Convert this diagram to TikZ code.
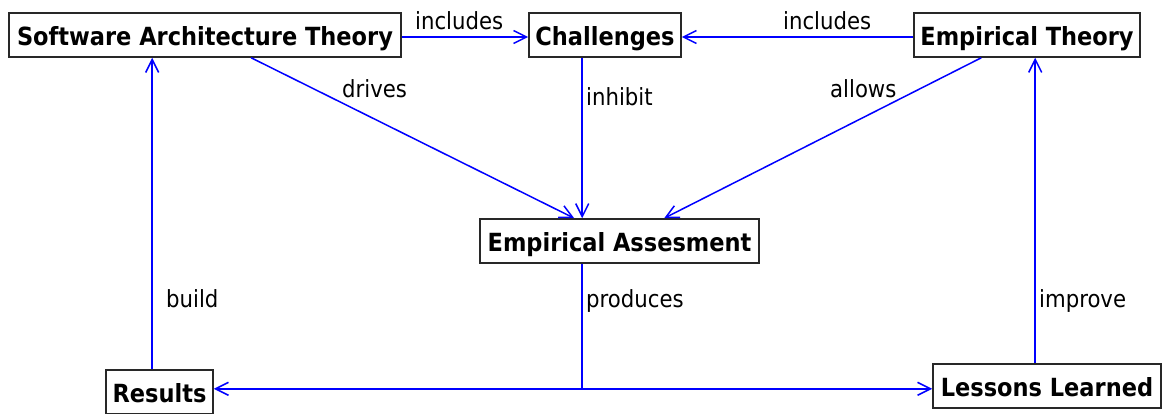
\documentclass[tikz,border=0pt]{standalone}
\usepackage{fontspec}
\setmainfont{DejaVu Sans Condensed}
\usetikzlibrary{arrows.meta,calc}
\definecolor{edgeblue}{RGB}{0,0,255}
\definecolor{framegray}{RGB}{40,40,40}
\begin{document}
\begin{tikzpicture}[x=1pt,y=-1pt,
  box/.style={draw=framegray, line width=1.6pt, fill=white, inner sep=0pt,
    minimum height=44pt, text height=22pt, text depth=1pt,
    font=\fontsize{25}{30}\selectfont\bfseries},
  lbl/.style={inner sep=0pt, anchor=base west, font=\fontsize{23.6}{28}\selectfont},
  conn/.style={draw=edgeblue, line width=1.5pt, -{Straight Barb[length=13pt,width=13pt]}},
  plain/.style={draw=edgeblue, line width=1.5pt}]
\useasboundingbox (0,0) rectangle (1166,413);
\node[box, minimum width=392pt] (sat) at (205,35) {Software Architecture Theory};
\node[box, minimum width=152pt] (ch) at (605,35) {Challenges};
\node[box, minimum width=226pt] (et) at (1027,35) {Empirical Theory};
\node[box, minimum width=279pt] (ea) at (619.5,241) {Empirical Assesment};
\node[box, minimum width=107pt] (res) at (159.5,392) {Results};
\node[box, minimum width=228pt] (ll) at (1047,386) {Lessons Learned};
% connectors
\draw[conn] ($(sat.east)+(0,2)$) -- ($(ch.west)+(0,2)$);
\draw[conn] ($(et.west)+(0,2)$) -- ($(ch.east)+(0,2)$);
\draw[conn] ($(sat.south west)+(243,0)$) -- ($(ea.north west)+(95,0)$);
\draw[conn] ($(ch.south west)+(54,0)$) -- ($(ea.north west)+(103,0)$);
\draw[conn] ($(et.south west)+(68,0)$) -- ($(ea.north west)+(185,0)$);
\coordinate (j) at ($(ea.south west)+(103,125)$);
\draw[plain] ($(ea.south west)+(103,0)$) -- (j);
\draw[conn] (j) -- (j -| res.east);
\draw[conn] (j) -- (j -| ll.west);
\draw[conn] ($(res.north west)+(47,0)$) -- ($(sat.south west)+(144,0)$);
\draw[conn] ($(ll.north west)+(103,0)$) -- ($(et.south west)+(122,0)$);
% labels
\node[lbl] (l1) at (415,29) {includes};
\node[lbl] (l2) at (783,29) {includes};
\node[lbl] (l3) at (342,97) {drives};
\node[lbl] (l4) at (586,105) {inhibit};
\node[lbl] (l5) at (830,97) {allows};
\node[lbl] (l6) at (166,307) {build};
\node[lbl] (l7) at (586,307) {produces};
\node[lbl] (l8) at (1039,307) {improve};
\end{tikzpicture}
\end{document}
